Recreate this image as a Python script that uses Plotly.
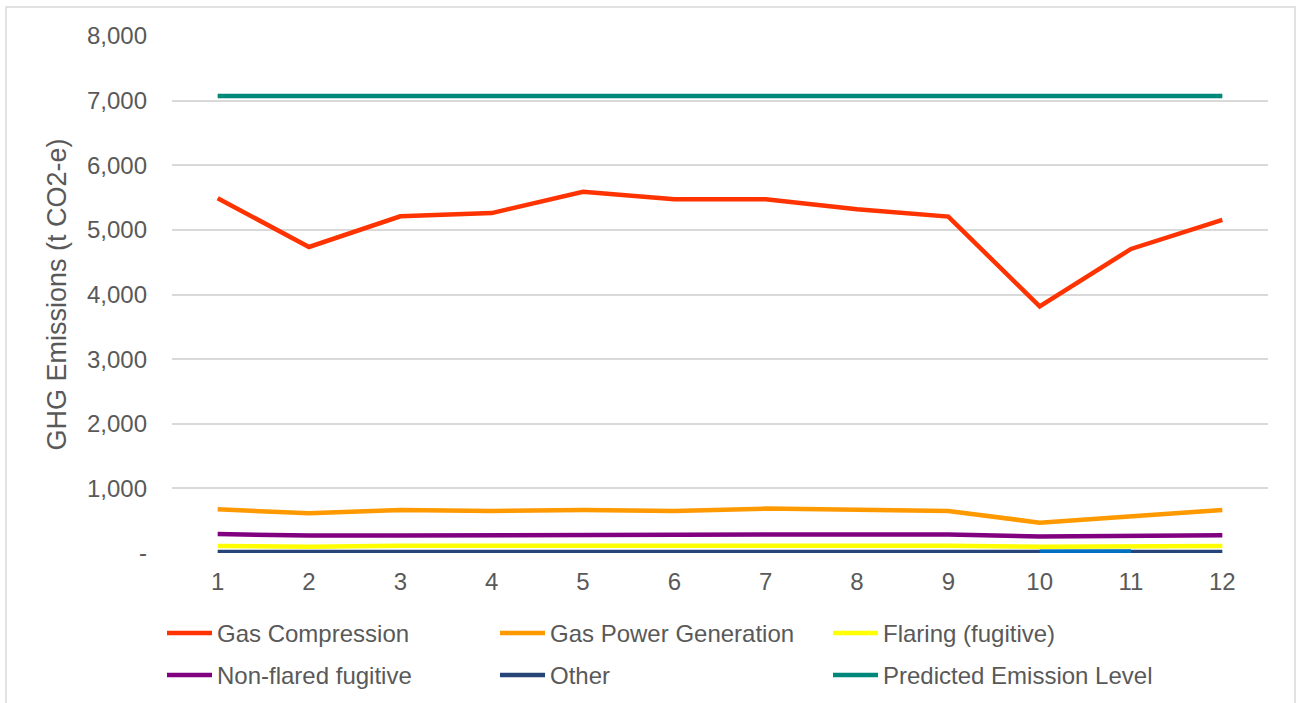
import plotly.graph_objects as go

months = [str(i) for i in range(1, 13)]
gas_compression = [5490, 4735, 5210, 5260, 5590, 5475, 5475, 5320, 5205, 3815, 4705, 5155]
gas_power = [676, 614, 666, 650, 666, 651, 687, 672, 650, 470, 573, 666]
flaring = [108, 98, 112, 113, 113, 113, 113, 113, 113, 98, 108, 108]
non_flared = [294, 269, 272, 276, 294, 288, 285, 285, 285, 254, 264, 274]
other = [15, 15, 15, 15, 15, 15, 15, 15, 15, 20, 25, 15]
predicted = [7070] * 12

y_tickvals = [0, 1000, 2000, 3000, 4000, 5000, 6000, 7000, 8000]
y_ticktext = ["-", "1,000", "2,000", "3,000", "4,000", "5,000", "6,000", "7,000", "8,000"]

series = [
    ("Gas Compression", gas_compression, "#FF3300", "legend"),
    ("Gas Power Generation", gas_power, "#FF9900", "legend"),
    ("Flaring (fugitive)", flaring, "#FFFF00", "legend"),
    ("Non-flared fugitive", non_flared, "#800080", "legend2"),
    ("Other", other, "#264478", "legend2"),
    ("Predicted Emission Level", predicted, "#00897B", "legend2"),
]

fig = go.Figure()
for name, vals, color, lg in series:
    fig.add_trace(go.Scatter(x=months, y=vals, name=name, mode="lines", legend=lg,
                             line=dict(color=color, width=4.5)))
# highlighted segment of "Other" between months 10 and 11
fig.add_trace(go.Scatter(x=months[9:11], y=other[9:11], mode="lines", showlegend=False,
                         line=dict(color="#0070C0", width=4.5), hoverinfo="skip"))

W, H = 1300, 703
L, T = 172, 36
pw, ph = 1096, 517
R, B = W - L - pw, H - T - ph


def px(x):  # page x -> paper
    return (x - L) / pw


def py(y):  # page y -> paper
    return (T + ph - y) / ph


fig.add_shape(type="rect", xref="paper", yref="paper",
              x0=px(6), x1=px(1295), y0=py(720), y1=py(7),
              line=dict(color="#D9D9D9", width=1.5), fillcolor="rgba(0,0,0,0)", layer="below")

leg_common = dict(orientation="h", xanchor="left", yanchor="top",
                  entrywidth=273, entrywidthmode="pixels", itemwidth=45,
                  font=dict(family="Liberation Sans, Arial", size=24, color="#595959"),
                  bgcolor="rgba(0,0,0,0)", traceorder="normal")

fig.update_layout(
    width=W, height=H,
    margin=dict(l=L, r=R, t=T, b=B, autoexpand=False),
    paper_bgcolor="white", plot_bgcolor="white",
    font=dict(family="Liberation Sans, Arial", size=24, color="#595959"),
    showlegend=True,
    legend=dict(x=px(162), y=py(611), **leg_common),
    legend2=dict(x=px(162), y=py(653), **leg_common),
    xaxis=dict(type="category", range=[-0.5, 11.5], showgrid=False, showline=False, zeroline=False,
               ticks="", ticklabelstandoff=12, tickfont=dict(size=24, color="#595959")),
    yaxis=dict(range=[0, 8000], tickvals=y_tickvals, ticktext=y_ticktext,
               showgrid=True, gridcolor="#D9D9D9", gridwidth=1.5, zeroline=False,
               showline=False, ticks="", ticklabelstandoff=24,
               tickfont=dict(size=24, color="#595959"),
               title=dict(text="GHG Emissions (t CO2-e)", font=dict(size=27, color="#595959"),
                          standoff=12)),
)

fig.write_html("out.html", config={"displayModeBar": False},
               post_script="document.body.style.margin='0';")
